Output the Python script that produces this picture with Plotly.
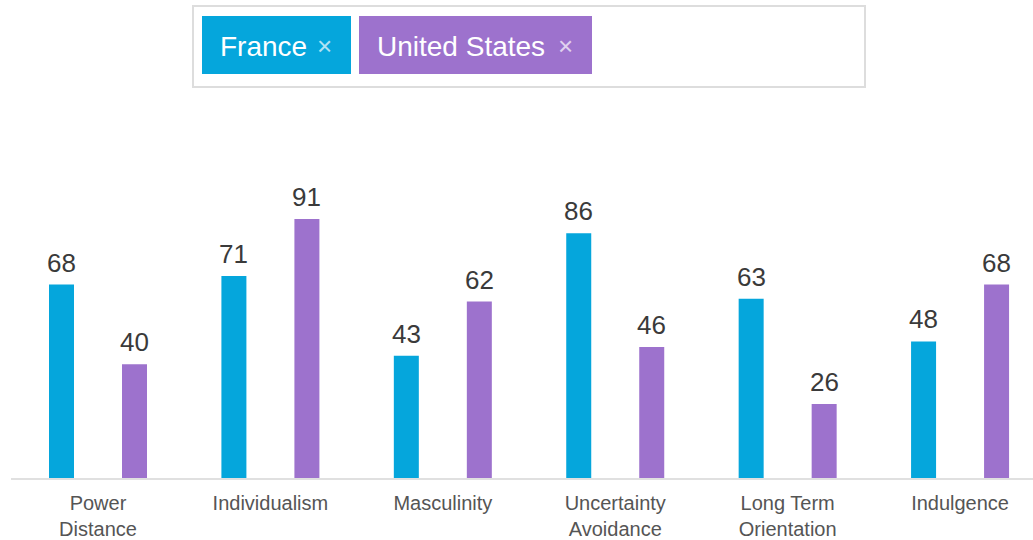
import plotly.graph_objects as go

# Hofstede cultural dimensions, France vs United States
dimensions = ["Power<br>Distance", "Individualism", "Masculinity",
              "Uncertainty<br>Avoidance", "Long Term<br>Orientation", "Indulgence"]
countries = ["France", "United States"]
france = [68, 71, 43, 86, 63, 48]
united_states = [40, 91, 62, 46, 26, 68]
colors = ["#05A6DC", "#9D72CD"]

W, H = 1033, 540
ML, MR, MT, MB = 11, 0, 165, 62
PW, PH = W - ML - MR, H - MT - MB

BAR_OFFSET = 0.2117
BAR_WIDTH = 0.145
FONT = "Liberation Sans, Arial, sans-serif"


def px_x(p):
    return (p - ML) / PW


def px_y(p):
    return (H - MB - p) / PH


fig = go.Figure()
annotations = []
for k, (name, vals, col) in enumerate(zip(countries, [france, united_states], colors)):
    sign = -1 if k == 0 else 1
    xs = [i + sign * BAR_OFFSET for i in range(len(dimensions))]
    fig.add_trace(go.Bar(
        x=xs, y=vals, width=BAR_WIDTH, name=name,
        marker=dict(color=col, line=dict(width=0)),
        showlegend=False, hoverinfo="skip",
    ))
    for x, v in zip(xs, vals):
        annotations.append(dict(
            x=x, y=v, xref="x", yref="y", text=str(v), showarrow=False,
            yanchor="bottom", xanchor="center", yshift=5,
            font=dict(family=FONT, size=26, color="#3a3a3a"),
        ))

# tag-style country selector above the chart
shapes = [dict(type="rect", xref="paper", yref="paper",
               x0=px_x(193), x1=px_x(865), y0=px_y(87), y1=px_y(6),
               line=dict(color="#DDDDDD", width=2), fillcolor="white", layer="below")]
tags = [(countries[0], colors[0], 202, 351), (countries[1], colors[1], 359, 592)]
for name, col, x0, x1 in tags:
    shapes.append(dict(type="rect", xref="paper", yref="paper",
                       x0=px_x(x0), x1=px_x(x1), y0=px_y(74), y1=px_y(16),
                       line=dict(width=0), fillcolor=col))
    annotations.append(dict(
        x=px_x(x0 + 16), y=px_y(46), xref="paper", yref="paper", text=name,
        showarrow=False, xanchor="left", yanchor="middle",
        font=dict(family=FONT, size=28, color="white"),
    ))
    annotations.append(dict(
        x=px_x(x1 - 27), y=px_y(46), xref="paper", yref="paper", text="×",
        showarrow=False, xanchor="center", yanchor="middle",
        font=dict(family=FONT, size=26, color="rgba(255,255,255,0.7)"),
    ))

fig.update_layout(
    width=W, height=H,
    margin=dict(l=ML, r=MR, t=MT, b=MB, pad=0, autoexpand=False),
    paper_bgcolor="white", plot_bgcolor="white",
    shapes=shapes, annotations=annotations,
    xaxis=dict(
        range=[-0.5046, 5.423], tickmode="array",
        tickvals=list(range(len(dimensions))), ticktext=dimensions,
        showgrid=False, zeroline=False, showline=True,
        linecolor="#E0E0E0", linewidth=2, ticks="", ticklabelstandoff=6,
        tickfont=dict(family=FONT, size=20, color="#555555"),
        automargin=False, fixedrange=True,
    ),
    yaxis=dict(range=[0, 110], visible=False, fixedrange=True),
)

fig.write_html("out.html")
